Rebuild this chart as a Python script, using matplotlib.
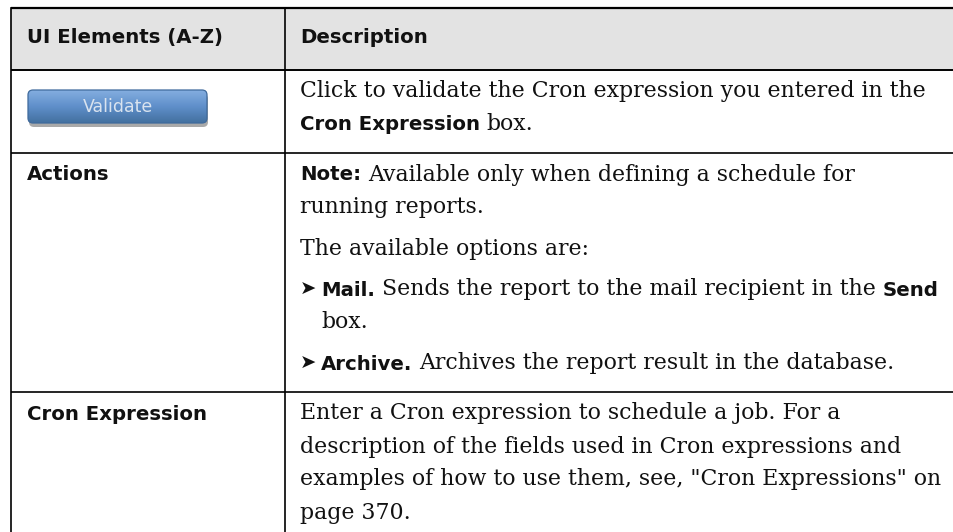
import numpy as np
import matplotlib.pyplot as plt
from matplotlib.patches import FancyBboxPatch, Rectangle
from matplotlib.colors import to_rgb

W, H = 954, 532

# table content
header_labels = ["UI Elements (A-Z)", "Description"]
row_labels = [None, "Actions", "Cron Expression"]
button_label = "Validate"

# each row: list of paragraphs (bullet?, lines); each line: runs of (text, bold)
row_desc = [
    [
        (False, [[("Click to validate the Cron expression you entered in the", False)],
                 [("Cron Expression", True), ("box.", False)]]),
    ],
    [
        (False, [[("Note:", True), ("Available only when defining a schedule for", False)],
                 [("running reports.", False)]]),
        (False, [[("The available options are:", False)]]),
        (True, [[("Mail.", True), ("Sends the report to the mail recipient in the", False), ("Send", True)],
                [("box.", False)]]),
        (True, [[("Archive.", True), ("Archives the report result in the database.", False)]]),
    ],
    [
        (False, [[("Enter a Cron expression to schedule a job. For a", False)],
                 [("description of the fields used in Cron expressions and", False)],
                 [("examples of how to use them, see, \"Cron Expressions\" on", False)],
                 [("page 370.", False)]]),
    ],
]

# layout (pixels)
LEFT, COL, RIGHT = 11, 285, W
TOP, HEAD_BOT = 7.5, 69.5
PAD_X = 16
FIRST_BASE = 28
LINE_H = 33
PARA_GAP = 8
BOTTOM_PAD = 22
BULLET_INDENT = 21

TEXT = "#111111"
HEAD_BG = "#e3e3e3"
SANS_B = dict(family="DejaVu Sans", weight="bold", size=14.25)
SERIF = dict(family="DejaVu Serif", size=15.8)

fig = plt.figure(figsize=(W / 100, H / 100), dpi=100)
ax = fig.add_axes([0, 0, 1, 1])
ax.set_xlim(0, W)
ax.set_ylim(H, 0)
ax.axis("off")
rend = fig.canvas.get_renderer()


def text_w(s, style):
    t = ax.text(0, 0, s, **style)
    w = t.get_window_extent(renderer=rend).width
    t.remove()
    return w


def draw_line(x, y, runs):
    for s, bold in runs:
        st = SANS_B if bold else SERIF
        ax.text(x, y, s, va="baseline", ha="left", color=TEXT, **st)
        x += text_w(s, st) + text_w("a a", st) - text_w("aa", st)


# header
ax.add_patch(Rectangle((LEFT, TOP), RIGHT - LEFT, HEAD_BOT - TOP, facecolor=HEAD_BG, edgecolor="none", zorder=0))
ax.text(LEFT + PAD_X, 43, header_labels[0], va="baseline", color=TEXT, **SANS_B)
ax.text(COL + PAD_X - 1, 43, header_labels[1], va="baseline", color=TEXT, **SANS_B)

# rows
row_lines = [HEAD_BOT]
y_top = HEAD_BOT
for label, paras in zip(row_labels, row_desc):
    y = y_top + FIRST_BASE
    if label:
        ax.text(LEFT + PAD_X, y, label, va="baseline", color=TEXT, **SANS_B)
    for pi, (bullet, lines) in enumerate(paras):
        if pi > 0:
            y += PARA_GAP
        x0 = COL + PAD_X - 1
        if bullet:
            ax.text(x0, y - 1, "\u27a4", va="baseline", color=TEXT, family="DejaVu Sans", size=14)
            x0 += BULLET_INDENT
        for li, runs in enumerate(lines):
            draw_line(x0, y, runs)
            y += LINE_H
    y_bot = y - LINE_H + BOTTOM_PAD
    row_lines.append(y_bot)
    y_top = y_bot

# Validate button
bx, by, bw, bh = 28, 90, 179, 33
shadow = FancyBboxPatch((bx + 1, by + 4), bw, bh, boxstyle="round,pad=0,rounding_size=5",
                        facecolor="#a9a9a9", edgecolor="none", zorder=2)
ax.add_patch(shadow)
btn = FancyBboxPatch((bx, by), bw, bh, boxstyle="round,pad=0,rounding_size=5",
                     facecolor="none", edgecolor="#3f6a9c", linewidth=0.9, zorder=4)
ax.add_patch(btn)
c_top, c_mid, c_bot = np.array(to_rgb("#84aee0")), np.array(to_rgb("#5f8fca")), np.array(to_rgb("#43709f"))
t = np.linspace(0, 1, 64)[:, None]
grad = np.where(t < 0.5, c_top + (c_mid - c_top) * (t / 0.5), c_mid + (c_bot - c_mid) * ((t - 0.5) / 0.5))
grad = np.repeat(grad[:, None, :], 2, axis=1)
im = ax.imshow(grad, extent=[bx, bx + bw, by + bh, by], origin="upper", aspect="auto", zorder=3,
               interpolation="bilinear")
im.set_clip_path(btn)
ax.text(bx + bw / 2, by + bh / 2 + 1, button_label, ha="center", va="center", color="#d9e3ef",
        family="DejaVu Sans", size=12.5, zorder=5)
ax.set_xlim(0, W)
ax.set_ylim(H, 0)

# grid lines
ax.plot([LEFT, RIGHT], [TOP, TOP], color="black", lw=1.6, solid_capstyle="butt")
for yl in row_lines:
    if yl < H:
        ax.plot([LEFT, RIGHT], [yl, yl], color="black", lw=1.4 if yl == HEAD_BOT else 1.2, solid_capstyle="butt")
ax.plot([LEFT, LEFT], [TOP, H], color="black", lw=1.2)
ax.plot([COL, COL], [TOP, H], color="black", lw=1.2)

fig.savefig("out.png", dpi=100)
